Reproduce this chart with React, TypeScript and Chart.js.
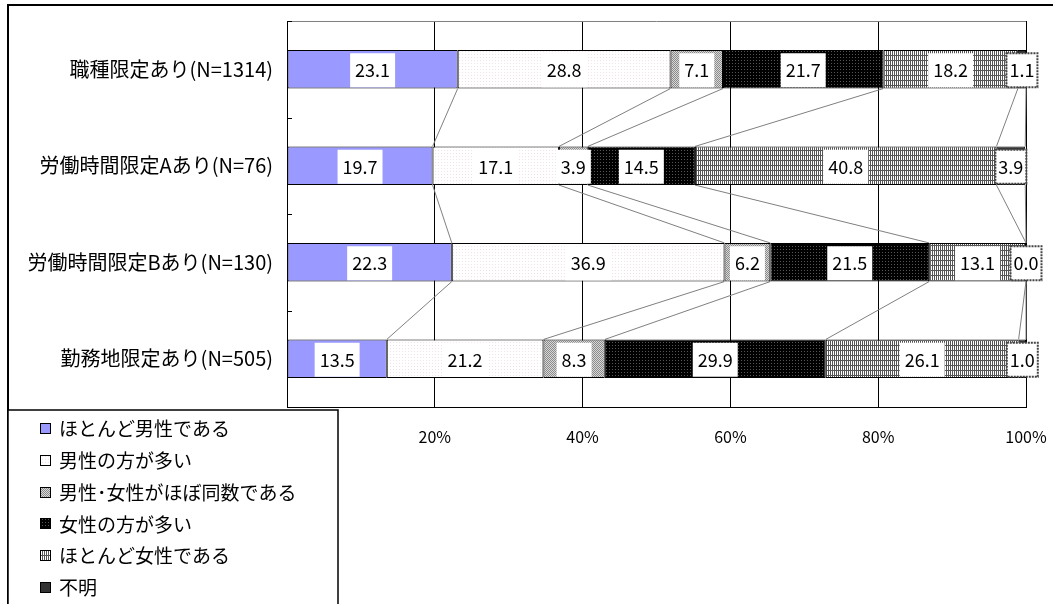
import React, { useEffect, useRef } from 'react';
import { Chart, registerables } from 'chart.js';

Chart.register(...registerables);

const categories = [
  '職種限定あり(N=1314)',
  '労働時間限定Aあり(N=76)',
  '労働時間限定Bあり(N=130)',
  '勤務地限定あり(N=505)',
];
const seriesNames = [
  'ほとんど男性である',
  '男性の方が多い',
  '男性･女性がほぼ同数である',
  '女性の方が多い',
  'ほとんど女性である',
  '不明',
];
const mostlyMale = [23.1, 19.7, 22.3, 13.5];
const moreMale = [28.8, 17.1, 36.9, 21.2];
const aboutEqual = [7.1, 3.9, 6.2, 8.3];
const moreFemale = [21.7, 14.5, 21.5, 29.9];
const mostlyFemale = [18.2, 40.8, 13.1, 26.1];
const unknown = [1.1, 3.9, 0.0, 1.0];
const seriesValues = [mostlyMale, moreMale, aboutEqual, moreFemale, mostlyFemale, unknown];
const xTickValues = [0, 20, 40, 60, 80, 100];

const JP = '"Noto Sans CJK JP", "Noto Sans", sans-serif';

function makePattern(
  ctx: CanvasRenderingContext2D,
  w: number,
  h: number,
  draw: (g: CanvasRenderingContext2D) => void
): CanvasPattern | string {
  const c = document.createElement('canvas');
  c.width = w;
  c.height = h;
  const g = c.getContext('2d')!;
  draw(g);
  return ctx.createPattern(c, 'repeat') || '#fff';
}

function buildFills(ctx: CanvasRenderingContext2D): (CanvasPattern | string)[] {
  const blue = '#9999FF';
  const dots = makePattern(ctx, 3, 3, (g) => {
    g.fillStyle = '#ffffff';
    g.fillRect(0, 0, 3, 3);
    g.fillStyle = '#F1E3E8';
    g.fillRect(0, 0, 1, 1);
  });
  const gray = makePattern(ctx, 2, 2, (g) => {
    g.fillStyle = '#d8d8d8';
    g.fillRect(0, 0, 2, 2);
    g.fillStyle = '#8a8a8a';
    g.fillRect(0, 0, 1, 1);
    g.fillRect(1, 1, 1, 1);
  });
  const blackDots = makePattern(ctx, 3, 3, (g) => {
    g.fillStyle = '#000000';
    g.fillRect(0, 0, 3, 3);
    g.fillStyle = '#555555';
    g.fillRect(0, 0, 1, 1);
  });
  const grid = makePattern(ctx, 2, 5, (g) => {
    g.fillStyle = '#ffffff';
    g.fillRect(0, 0, 2, 5);
    g.fillStyle = '#555555';
    g.fillRect(0, 0, 1, 5);
    g.fillRect(0, 0, 2, 1);
  });
  const dark = '#333333';
  return [blue, dots, gray, blackDots, grid, dark];
}

export default function App() {
  const canvasRef = useRef<HTMLCanvasElement | null>(null);

  useEffect(() => {
    const canvas = canvasRef.current;
    if (!canvas) return;
    const ctx0 = canvas.getContext('2d')!;
    const fills = buildFills(ctx0);

    const framePlugin = {
      id: 'frame',
      beforeDraw(chart: any) {
        const ctx = chart.ctx as CanvasRenderingContext2D;
        ctx.save();
        ctx.fillStyle = '#ffffff';
        ctx.fillRect(0, 0, chart.width, chart.height);
        ctx.restore();
      },
      beforeDatasetsDraw(chart: any) {
        const ctx = chart.ctx as CanvasRenderingContext2D;
        const { left, right, top, bottom } = chart.chartArea;
        ctx.save();
        ctx.strokeStyle = '#808080';
        ctx.lineWidth = 1;
        ctx.beginPath();
        ctx.moveTo(left, top + 0.5);
        ctx.lineTo(right, top + 0.5);
        ctx.stroke();
        const yScale = chart.scales.y;
        const n = categories.length;
        ctx.strokeStyle = '#000';
        ctx.lineWidth = 1;
        const bounds: number[] = [top, bottom];
        for (let i = 0; i < n - 1; i++) {
          bounds.push((yScale.getPixelForValue(i) + yScale.getPixelForValue(i + 1)) / 2);
        }
        bounds.forEach((b) => {
          const yy = Math.round(b) + 0.5;
          ctx.beginPath();
          ctx.moveTo(left, yy);
          ctx.lineTo(left + 5, yy);
          ctx.stroke();
        });
        ctx.strokeStyle = '#808080';
        ctx.lineWidth = 1;
        chart.data.datasets.forEach((_ds: any, di: number) => {
          const meta = chart.getDatasetMeta(di);
          for (let i = 0; i < meta.data.length - 1; i++) {
            const a = meta.data[i].getProps(['x', 'y', 'height'], true);
            const b = meta.data[i + 1].getProps(['x', 'y', 'height'], true);
            ctx.beginPath();
            ctx.moveTo(a.x, a.y + a.height / 2);
            ctx.lineTo(b.x, b.y - b.height / 2);
            ctx.stroke();
          }
        });
        ctx.restore();
      },
      afterDatasetsDraw(chart: any) {
        const ctx = chart.ctx as CanvasRenderingContext2D;
        ctx.save();
        ctx.font = `18px ${JP}`;
        ctx.textAlign = 'center';
        ctx.textBaseline = 'middle';
        chart.data.datasets.forEach((ds: any, di: number) => {
          const meta = chart.getDatasetMeta(di);
          meta.data.forEach((el: any, i: number) => {
            const v = ds.data[i] as number;
            const txt = v.toFixed(1);
            const p = el.getProps(['x', 'base', 'y'], true);
            const cx = (p.x + p.base) / 2;
            const tw = ctx.measureText(txt).width;
            const last = di === chart.data.datasets.length - 1;
            const bw = tw + (last ? 6 : 10);
            const bh = 34;
            const bx = cx - bw / 2;
            const by = p.y - bh / 2 + 1;
            ctx.fillStyle = '#ffffff';
            ctx.fillRect(bx, by, bw, bh);
            if (last) {
              ctx.strokeStyle = '#444';
              ctx.lineWidth = 2;
              ctx.setLineDash([2, 1]);
              ctx.strokeRect(bx, by, bw, bh);
              ctx.setLineDash([]);
            }
            ctx.fillStyle = '#000';
            ctx.fillText(txt, cx, p.y + 1);
          });
        });
        ctx.restore();
      },
      afterDraw(chart: any) {
        const ctx = chart.ctx as CanvasRenderingContext2D;
        ctx.save();
        ctx.strokeStyle = '#000';
        ctx.lineWidth = 2;
        ctx.strokeRect(8, 5, 1200, 800);
        ctx.fillStyle = '#fff';
        ctx.fillRect(8, 410, 330, 220);
        ctx.lineWidth = 1.5;
        ctx.strokeRect(8, 410, 330, 220);
        ctx.font = `19px ${JP}`;
        ctx.textAlign = 'left';
        ctx.textBaseline = 'middle';
        chart.data.datasets.forEach((ds: any, di: number) => {
          const cy = 428 + di * 31.8;
          ctx.fillStyle = ds.backgroundColor;
          ctx.fillRect(40, Math.round(cy) - 5, 11, 11);
          ctx.strokeStyle = '#000';
          ctx.lineWidth = 1;
          ctx.strokeRect(40.5, Math.round(cy) - 4.5, 10, 10);
          ctx.fillStyle = '#000';
          ctx.fillText(ds.label, 59, cy + 1);
        });
        ctx.restore();
      },
    };

    const chart = new Chart(canvas, {
      type: 'bar',
      data: {
        labels: categories,
        datasets: seriesValues.map((data, i) => ({
          label: seriesNames[i],
          data,
          backgroundColor: fills[i] as any,
          borderColor: '#000',
          borderWidth: 1,
          borderSkipped: false,
          barPercentage: 0.4,
          categoryPercentage: 1.0,
        })),
      },
      options: {
        indexAxis: 'y',
        responsive: false,
        animation: false,
        devicePixelRatio: 1,
        layout: { padding: { left: 0, right: 27, top: 21, bottom: 0 } },
        plugins: {
          legend: { display: false },
          tooltip: { enabled: false },
        },
        scales: {
          x: {
            stacked: true,
            min: 0,
            max: 100,
            afterFit: (s: any) => {
              s.height = 197;
              s.paddingLeft = 0;
              s.paddingRight = 0;
            },
            afterBuildTicks: (s: any) => {
              s.ticks = xTickValues.map((v) => ({ value: v }));
            },
            ticks: {
              callback: (v: any) => (Number(v) === 0 ? '' : `${v}%`),
              font: { family: JP, size: 16 },
              color: '#000',
              padding: 20,
              maxRotation: 0,
            },
            grid: { color: '#000', lineWidth: 1, drawTicks: false },
            border: { color: '#000', width: 1 },
          },
          y: {
            stacked: true,
            afterFit: (s: any) => {
              s.width = 287;
              s.paddingTop = 0;
              s.paddingBottom = 0;
            },
            ticks: {
              font: { family: JP, size: 20 },
              color: '#000',
              padding: 6,
            },
            grid: { display: false },
            border: { color: '#000', width: 1 },
          },
        },
      },
      plugins: [framePlugin],
    });

    return () => {
      chart.destroy();
    };
  }, []);

  return (
    <div style={{ position: 'absolute', left: 0, top: 0, width: 1053, height: 604, overflow: 'hidden' }}>
      <canvas ref={canvasRef} width={1053} height={604} style={{ display: 'block', width: 1053, height: 604 }} />
    </div>
  );
}
